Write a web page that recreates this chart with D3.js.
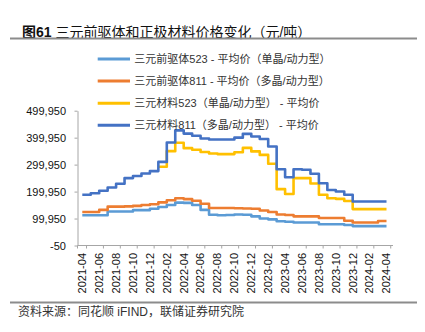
<!DOCTYPE html>
<html>
<head>
<meta charset="utf-8">
<script src="https://cdn.jsdelivr.net/npm/d3@7"></script>
<style>
  html, body { margin: 0; padding: 0; background: #fff; }
  svg { display: block; }
</style>
</head>
<body>
<div id="chart"></div>
<script>
// Monthly observations, 2021-04 .. 2024-04 (元/吨)
const months = [
  "2021-04","2021-05","2021-06","2021-07","2021-08","2021-09","2021-10","2021-11","2021-12",
  "2022-01","2022-02","2022-03","2022-04","2022-05","2022-06","2022-07","2022-08","2022-09",
  "2022-10","2022-11","2022-12","2023-01","2023-02","2023-03","2023-04","2023-05","2023-06",
  "2023-07","2023-08","2023-09","2023-10","2023-11","2023-12","2024-01","2024-02","2024-03","2024-04"
];
const xTickLabels = [
  "2021-04","2021-06","2021-08","2021-10","2021-12","2022-02","2022-04","2022-06","2022-08",
  "2022-10","2022-12","2023-02","2023-04","2023-06","2023-08","2023-10","2023-12","2024-02","2024-04"
];
const yTicks = [-50, 99950, 199950, 299950, 399950, 499950];

// 三元前驱体523 - 平均价（单晶/动力型）
const precursor523 = [
  112000,112000,112000,126000,126000,126000,131000,131000,136000,
  143000,150000,159000,158000,150000,132000,114000,112000,113000,
  115000,114000,108000,100000,97000,90000,88000,85000,85000,
  85000,79000,79000,79000,76000,72000,72000,72000,72000,72000
];
// 三元前驱体811 - 平均价（多晶/动力型）
const precursor811 = [
  124000,124000,132000,144000,144000,145000,147000,150000,153000,
  160000,168000,175000,172000,166000,155000,139000,139000,139000,
  138000,137000,136000,130000,124000,115000,113000,108000,108000,
  108000,102000,102000,102000,92000,85000,85000,85000,91000,91000
];
// 三元材料523（单晶/动力型） - 平均价
const material523 = [
  null,null,null,null,null,null,null,null,null,
  292000,350000,381000,361000,355000,347000,341000,339000,339000,
  346000,362000,349000,336000,303000,209000,191000,250000,250000,
  230000,188000,175000,173000,165000,135000,135000,135000,135000,135000
];
// 三元材料811（多晶/动力型） - 平均价
const material811 = [
  188000,194000,203000,215000,229000,250000,258000,267000,276000,
  310000,382000,427000,415000,407000,397000,393000,393000,393000,
  400000,414000,404000,395000,367000,283000,253000,283000,281000,
  266000,231000,206000,200000,188000,163000,163000,163000,163000,163000
];

const seriesNames = [
  "三元前驱体523 - 平均价（单晶/动力型）",
  "三元前驱体811 - 平均价（多晶/动力型）",
  "三元材料523（单晶/动力型） - 平均价",
  "三元材料811（多晶/动力型） - 平均价"
];
const seriesValues = [precursor523, precursor811, material523, material811];
const seriesColors = ["#5B9BD5", "#ED7D31", "#FFC000", "#4472C4"];

const W = 425, H = 332;
const FONT = "'Liberation Sans', Arial, 'Noto Sans CJK SC', sans-serif";

const svg = d3.select("#chart").append("svg")
  .attr("width", W).attr("height", H)
  .style("font-family", FONT);

// Title
const title = svg.append("text")
  .attr("x", 22).attr("y", 36.5)
  .attr("font-size", 14).attr("fill", "#111");
title.append("tspan").attr("font-weight", "bold").text("图61");
title.append("tspan").text(" 三元前驱体和正极材料价格变化（元/吨）");

// Separator rules
[38.5, 302.5].forEach(yy => {
  svg.append("line")
    .attr("x1", 10).attr("x2", 417).attr("y1", yy).attr("y2", yy)
    .attr("stroke", "#8c8c8c").attr("stroke-width", 2);
});

// Source note
svg.append("text")
  .attr("x", 18).attr("y", 315.5)
  .attr("font-size", 12).attr("fill", "#333")
  .text("资料来源：同花顺 iFIND，联储证券研究院");

// Scales
const x = d3.scalePoint().domain(months).range([82.3, 386.5]);
const y = d3.scaleLinear().domain([-50, 499950]).range([245.5, 110.7]);
const axisX0 = 77.5, axisX1 = 393;
const axisColor = "#a6a6a6";

const locale = d3.formatLocale({decimal: ".", thousands: ",", grouping: [3], currency: ["", ""], minus: "-"});
const fmt = locale.format(",");

// Y axis
const yAxis = svg.append("g")
  .attr("transform", `translate(${axisX0},0)`)
  .call(d3.axisLeft(y).tickValues(yTicks).tickFormat(fmt).tickSize(3).tickSizeOuter(0).tickPadding(8.5));
yAxis.select(".domain").attr("stroke", axisColor);
yAxis.selectAll(".tick line").attr("stroke", axisColor);
yAxis.selectAll(".tick text")
  .attr("font-size", 11).attr("font-family", FONT).attr("fill", "#111");

// X axis
const xAxisY = y(-50);
const xg = svg.append("g").attr("transform", `translate(0,${xAxisY})`);
xg.append("line")
  .attr("x1", axisX0).attr("x2", axisX1).attr("y1", 0).attr("y2", 0)
  .attr("stroke", axisColor);
xg.append("line")
  .attr("x1", axisX0).attr("x2", axisX0).attr("y1", 0).attr("y2", 3)
  .attr("stroke", axisColor);
xg.selectAll("line.tk").data(xTickLabels).join("line")
  .attr("class", "tk")
  .attr("x1", d => x(d) + x.step() / 2).attr("x2", d => x(d) + x.step() / 2)
  .attr("y1", 0).attr("y2", 3)
  .attr("stroke", axisColor);
xg.selectAll("text").data(xTickLabels).join("text")
  .attr("transform", d => `translate(${x(d)},7.5) rotate(-90)`)
  .attr("text-anchor", "end")
  .attr("dy", "0.35em")
  .attr("font-size", 11).attr("fill", "#111")
  .text(d => d);

// Step lines
const line = d3.line()
  .defined(d => d.v != null)
  .x(d => x(d.m))
  .y(d => y(d.v))
  .curve(d3.curveStepAfter);

seriesValues.forEach((vals, i) => {
  const pts = months.map((m, j) => ({m, v: vals[j]}));
  svg.append("path")
    .datum(pts)
    .attr("fill", "none")
    .attr("stroke", seriesColors[i])
    .attr("stroke-width", 2.6)
    .attr("stroke-linejoin", "round")
    .attr("d", line);
});

// Legend
const lg = svg.append("g");
seriesNames.forEach((name, i) => {
  const ly = 59 + i * 22.1;
  lg.append("line")
    .attr("x1", 97.7).attr("x2", 130).attr("y1", ly).attr("y2", ly)
    .attr("stroke", seriesColors[i]).attr("stroke-width", 3);
  lg.append("text")
    .attr("x", 134.3).attr("y", ly).attr("dy", "0.35em")
    .attr("font-size", 11).attr("fill", "#333")
    .text(name);
});
</script>
</body>
</html>
